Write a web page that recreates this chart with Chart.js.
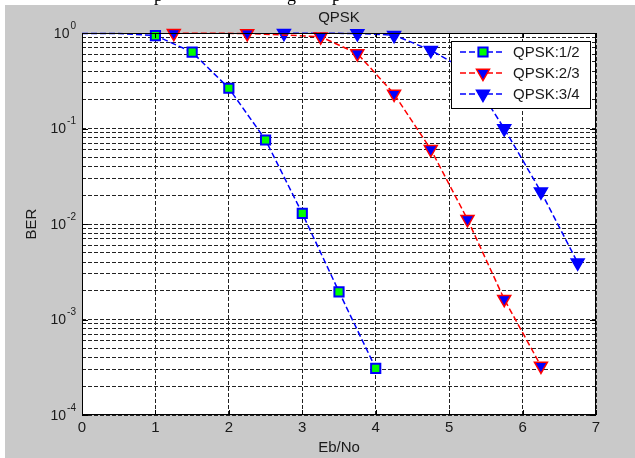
<!DOCTYPE html>
<html>
<head>
<meta charset="utf-8">
<script src="https://cdn.jsdelivr.net/npm/chart.js@4.4.1/dist/chart.umd.min.js"></script>
<style>
  html, body { margin: 0; padding: 0; background: #fff; }
  #wrap { width: 635px; height: 458px; position: relative; }
</style>
</head>
<body>
<div id="wrap"><canvas id="berChart" width="635" height="458"></canvas></div>
<script>
// values
const rateHalfX = [0, 0.5, 1, 1.5, 2, 2.5, 3, 3.5, 4];
const rateHalfBer = [0.99, 0.99, 0.94, 0.63, 0.264, 0.0758, 0.0129, 0.00195, 0.000308];

const rateTwoThirdsX = [1.25, 2.25, 3.25, 3.75, 4.25, 4.75, 5.25, 5.75, 6.25];
const rateTwoThirdsBer = [0.995, 0.99, 0.915, 0.61, 0.23, 0.0605, 0.0112, 0.00163, 0.000326];

const rateThreeQuartersX = [2.75, 3.75, 4.25, 4.75, 5.25, 5.75, 6.25, 6.75];
const rateThreeQuartersBer = [0.995, 0.99, 0.95, 0.66, 0.40, 0.100, 0.0218, 0.00394];

const seriesLabels = ["QPSK:1/2", "QPSK:2/3", "QPSK:3/4"];
const xTicks = [0, 1, 2, 3, 4, 5, 6, 7];
const yDecades = [-4, -3, -2, -1, 0];
const yMinorSteps = [2, 3, 4, 5, 6, 7, 8, 9];

const FONT = "'Liberation Sans', Arial, sans-serif";
const TEXT = "#1a1a1a";

// grid lines at every 1..9 x decade, like matlab's minor grid
const yGridValues = [];
yDecades.forEach(e => {
  yGridValues.push(Math.pow(10, e));
  if (e < 0) yMinorSteps.forEach(s => yGridValues.push(s * Math.pow(10, e)));
});

function toPoints(xs, ys) {
  return xs.map((x, i) => ({ x: x, y: ys[i] }));
}

function marker(c, opts, x, y) {
  if (Chart.helpers && Chart.helpers.drawPoint) {
    Chart.helpers.drawPoint(c, opts, x, y);
  }
}

const matlabLook = {
  id: "matlabLook",
  beforeDraw(chart) {
    const c = chart.ctx;
    const a = chart.chartArea;
    c.save();
    c.fillStyle = "#fff";
    c.fillRect(0, 0, chart.width, chart.height);
    c.fillStyle = "#c9c9c9";
    c.fillRect(5, 5, chart.width - 5, chart.height - 5);
    c.fillStyle = "#fff";
    c.fillRect(a.left, a.top, a.right - a.left, a.bottom - a.top);

    // bottoms of the caption line cut off above the figure
    c.fillStyle = "#000";
    c.font = "18px 'Liberation Serif', serif";
    c.textBaseline = "alphabetic";
    c.fillText("p", 154, 1);
    c.fillText("g", 287, 1);
    c.fillText("p", 332, 1);
    c.restore();
  },
  afterDatasetsDraw(chart) {
    const c = chart.ctx;
    const a = chart.chartArea;
    const xs = chart.scales.x;
    const ys = chart.scales.y;
    c.save();

    // axes box + inner ticks
    c.strokeStyle = "#000";
    c.lineWidth = 1;
    c.setLineDash([]);
    c.strokeRect(a.left + 0.5, a.top + 0.5, a.right - a.left - 1, a.bottom - a.top - 1);
    c.beginPath();
    yDecades.forEach(e => {
      const py = Math.round(ys.getPixelForValue(Math.pow(10, e))) + 0.5;
      c.moveTo(a.left, py); c.lineTo(a.left + 6, py);
      c.moveTo(a.right, py); c.lineTo(a.right - 6, py);
    });
    xTicks.forEach(v => {
      const px = Math.round(xs.getPixelForValue(v)) + 0.5;
      c.moveTo(px, a.bottom); c.lineTo(px, a.bottom - 5);
      c.moveTo(px, a.top); c.lineTo(px, a.top + 5);
    });
    c.stroke();

    // y tick labels as 10^n
    c.fillStyle = TEXT;
    c.textBaseline = "middle";
    yDecades.forEach(e => {
      const py = ys.getPixelForValue(Math.pow(10, e));
      const exp = e === 0 ? "0" : "-" + Math.abs(e);
      c.font = "10px " + FONT;
      const ew = c.measureText(exp).width;
      c.textAlign = "right";
      c.fillText(exp, a.left - 6, py - 7);
      c.font = "14px " + FONT;
      c.fillText("10", a.left - 7 - ew, py + 1);
    });

    // title
    c.font = "15px " + FONT;
    c.textAlign = "center";
    c.fillText("QPSK", (a.left + a.right) / 2, 18);

    // legend box in the top right corner
    const lx = a.right - 145, ly = a.top + 8, lw = 139, lh = 67;
    c.fillStyle = "#fff";
    c.fillRect(lx, ly, lw, lh);
    c.strokeStyle = "#000";
    c.strokeRect(lx + 0.5, ly + 0.5, lw, lh);
    chart.data.datasets.forEach((ds, i) => {
      const ry = ly + 11 + i * 21;
      c.strokeStyle = ds.borderColor;
      c.lineWidth = ds.borderWidth;
      c.setLineDash(ds.borderDash);
      c.beginPath();
      c.moveTo(lx + 9, ry); c.lineTo(lx + 54, ry);
      c.stroke();
      c.setLineDash([]);
      c.fillStyle = ds.pointBackgroundColor;
      c.strokeStyle = ds.pointBorderColor;
      c.lineWidth = ds.pointBorderWidth;
      marker(c, { pointStyle: ds.pointStyle, rotation: ds.pointRotation || 0, radius: ds.legendRadius, borderWidth: ds.pointBorderWidth }, lx + 32, ry);
      c.fillStyle = TEXT;
      c.font = "15px " + FONT;
      c.textAlign = "left";
      c.fillText(ds.label, lx + 62, ry + 1);
    });
    c.restore();
  }
};

const gridStyle = { color: "#222", lineWidth: 1, drawTicks: false };

new Chart(document.getElementById("berChart"), {
  type: "line",
  data: {
    datasets: [
      {
        label: seriesLabels[0],
        data: toPoints(rateHalfX, rateHalfBer),
        borderColor: "#0000ff",
        borderWidth: 1.5,
        borderDash: [6, 3],
        pointStyle: "rect",
        pointRadius: ctx => (ctx.raw && ctx.raw.x < 1 ? 0 : 6.5),
        legendRadius: 6.5,
        pointBackgroundColor: "#00ff00",
        pointBorderColor: "#0000ff",
        pointBorderWidth: 2
      },
      {
        label: seriesLabels[1],
        data: toPoints(rateTwoThirdsX, rateTwoThirdsBer),
        borderColor: "#ff0000",
        borderWidth: 1.5,
        borderDash: [6, 3],
        pointStyle: "triangle",
        pointRotation: 180,
        pointRadius: 7.5,
        legendRadius: 7.5,
        pointBackgroundColor: "#0000ff",
        pointBorderColor: "#ff0000",
        pointBorderWidth: 1.5
      },
      {
        label: seriesLabels[2],
        data: toPoints(rateThreeQuartersX, rateThreeQuartersBer),
        borderColor: "#0000ff",
        borderWidth: 1.5,
        borderDash: [6, 3],
        pointStyle: "triangle",
        pointRotation: 180,
        pointRadius: 7.5,
        legendRadius: 7.5,
        pointBackgroundColor: "#0000ff",
        pointBorderColor: "#0000ff",
        pointBorderWidth: 1.5
      }
    ]
  },
  options: {
    responsive: false,
    animation: false,
    devicePixelRatio: 1,
    datasets: { line: { clip: false, tension: 0, pointHoverRadius: 6 } },
    layout: { padding: { left: 0, top: 33, right: 39, bottom: 0 } },
    plugins: { legend: { display: false }, tooltip: { enabled: false }, title: { display: false } },
    scales: {
      x: {
        type: "linear",
        min: 0,
        max: 7,
        afterBuildTicks: s => { s.ticks = xTicks.map(v => ({ value: v })); },
        afterFit: s => { s.height = 43; },
        grid: gridStyle,
        border: { display: false, dash: [4, 2] },
        ticks: { color: TEXT, font: { family: FONT, size: 15 }, padding: 4, maxRotation: 0 },
        title: { display: true, text: "Eb/No", color: TEXT, font: { family: FONT, size: 15 }, padding: { top: 0, bottom: 1 } }
      },
      y: {
        type: "logarithmic",
        min: 1e-4,
        max: 1,
        afterBuildTicks: s => { s.ticks = yGridValues.map(v => ({ value: v })); },
        afterFit: s => { s.width = 82; },
        grid: gridStyle,
        border: { display: false, dash: [4, 2] },
        ticks: { display: false },
        title: { display: true, text: "BER", color: TEXT, font: { family: FONT, size: 15 }, padding: { top: 23, bottom: 0 } }
      }
    }
  },
  plugins: [matlabLook]
});
</script>
</body>
</html>
